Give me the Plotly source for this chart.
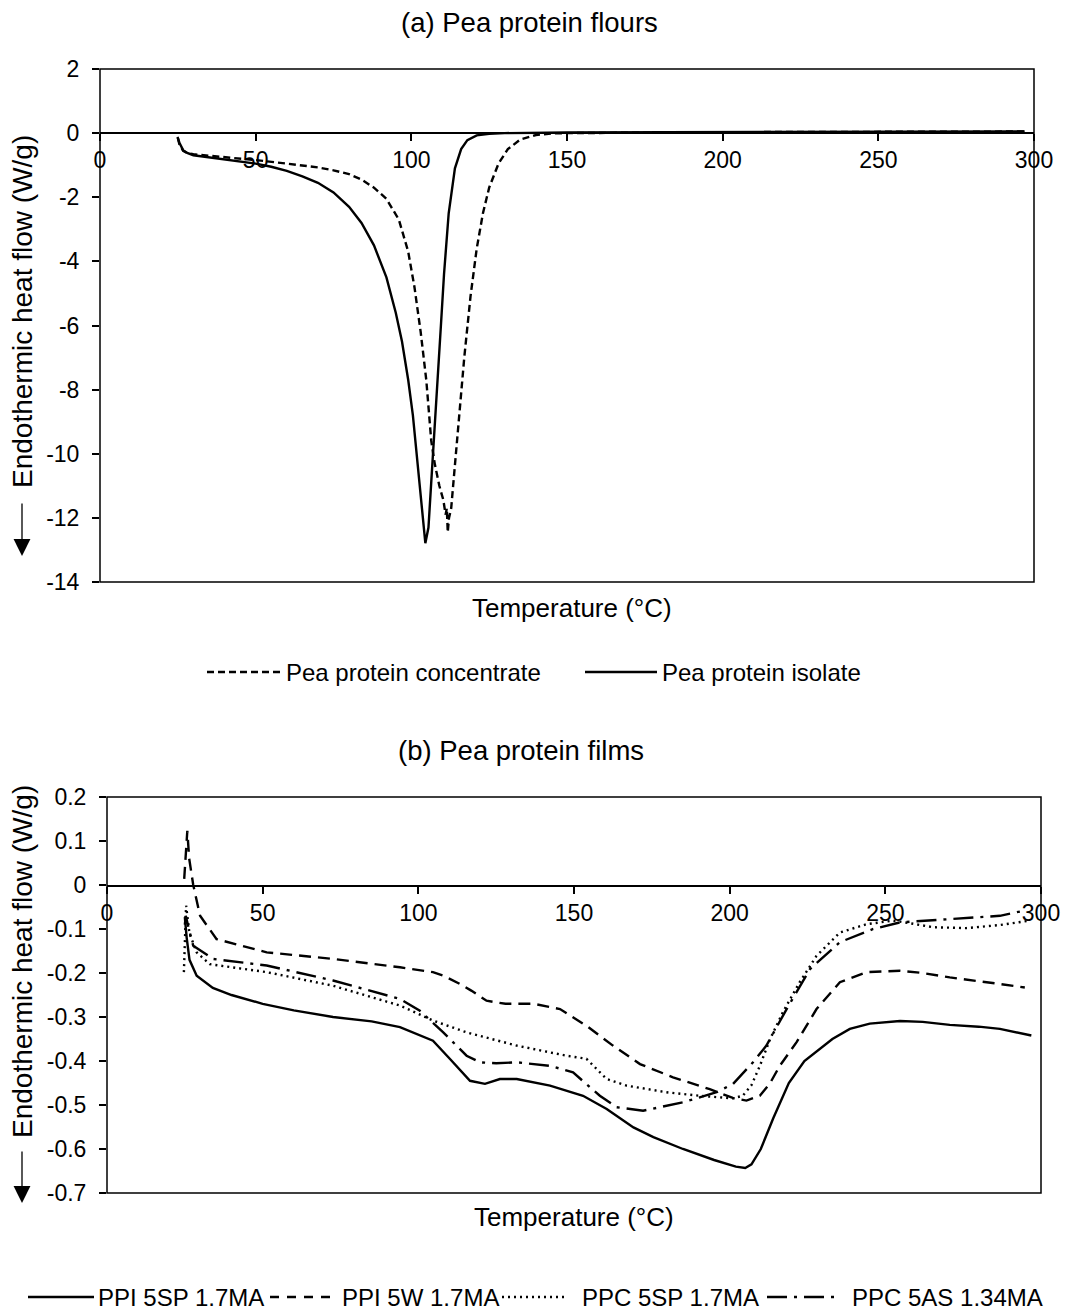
import plotly.graph_objects as go

# ---------------- data: (a) Pea protein flours ----------------
ppc_x = [25, 25.5, 26.7, 28, 30, 35, 40, 50, 60, 70, 75, 80, 84, 88, 92, 96, 99, 101, 103,
         104.8, 106.4, 107.5, 109, 110.3, 111, 111.4, 111.7, 112.1, 112.8, 114, 115.5, 117,
         119, 121, 123, 125, 128, 131, 135, 140, 145, 150, 200, 250, 297]
ppc_y = [-0.15, -0.35, -0.55, -0.62, -0.66, -0.7, -0.74, -0.84, -0.95, -1.07, -1.16, -1.28,
         -1.45, -1.7, -2.05, -2.7, -3.7, -4.8, -6.2, -7.7, -9.6, -10.3, -11.0, -11.45, -11.9,
         -11.7, -12.45, -12.0, -11.7, -10.4, -8.7, -7.0, -5.1, -3.6, -2.5, -1.7, -0.95, -0.5,
         -0.2, -0.06, -0.01, 0.0, 0.03, 0.04, 0.05]

ppi_x = [24.9, 25.5, 26.7, 28, 30, 35, 40, 45, 50, 55, 60, 65, 70, 75, 80, 84, 88, 92, 95, 97,
         99, 100.5, 102, 103.5, 104.5, 105.5, 106.5, 107.5, 108.5, 109.5, 110.5, 112, 114, 116,
         118, 121, 125, 130, 150, 200, 250, 297]
ppi_y = [-0.12, -0.3, -0.53, -0.62, -0.69, -0.76, -0.82, -0.88, -0.95, -1.05, -1.18, -1.35,
         -1.55, -1.85, -2.3, -2.8, -3.5, -4.5, -5.6, -6.5, -7.7, -8.8, -10.3, -11.9, -12.79,
         -12.3, -10.8, -9.2, -7.7, -6.0, -4.4, -2.5, -1.1, -0.5, -0.22, -0.07, -0.02, 0.0,
         0.02, 0.03, 0.04, 0.05]

# ---------------- data: (b) Pea protein films ----------------
f1_x = [25, 25.6, 26.5, 28.8, 34, 40, 50, 60, 72.6, 85, 94.1, 100, 104.7, 110.1, 116.6, 121.4,
        126.2, 131.6, 142.3, 152.9, 160.5, 169.1, 175.5, 185, 195, 202, 205, 207, 210, 214,
        219, 224, 229, 233, 238.6, 245, 254.7, 262, 270.7, 280, 286.8, 296.9]
f1_y = [-0.073, -0.12, -0.17, -0.206, -0.234, -0.25, -0.27, -0.285, -0.3, -0.31, -0.323,
        -0.34, -0.354, -0.395, -0.445, -0.452, -0.441, -0.441, -0.456, -0.479, -0.509, -0.551,
        -0.573, -0.6, -0.625, -0.64, -0.643, -0.635, -0.6, -0.53, -0.45, -0.4, -0.373, -0.35,
        -0.327, -0.315, -0.309, -0.311, -0.318, -0.322, -0.327, -0.342]

f2_x = [24.8, 25.4, 25.8, 26.4, 27.7, 29.9, 35.2, 51.3, 72.6, 94.1, 104.7, 108, 113.4, 117,
        121.9, 128, 137, 145.5, 154, 162.5, 171.2, 181.8, 193.6, 201, 205.4, 209.7, 213,
        216.1, 221.5, 227.9, 235.4, 244, 254.7, 262, 270.7, 286.8, 294.8]
f2_y = [0.014, 0.09, 0.123, 0.06, 0.0, -0.07, -0.123, -0.153, -0.168, -0.187, -0.198, -0.206,
        -0.225, -0.24, -0.263, -0.27, -0.27, -0.282, -0.32, -0.365, -0.407, -0.437, -0.464,
        -0.484, -0.49, -0.479, -0.45, -0.411, -0.357, -0.282, -0.221, -0.198, -0.195, -0.2,
        -0.21, -0.225, -0.233]

f3_x = [24.7, 25.2, 25.4, 26.5, 28.8, 33, 51.3, 72.6, 94.1, 104.7, 115.5, 131.6, 147.6, 154,
        160.5, 166.9, 179.7, 190.4, 201, 204.2, 207, 209.7, 213, 217.1, 222.5, 227.9, 235.4,
        244, 252.5, 258, 265.4, 276, 286.8, 296.4]
f3_y = [-0.198, -0.1, -0.047, -0.11, -0.153, -0.18, -0.198, -0.229, -0.274, -0.308, -0.335,
        -0.365, -0.388, -0.395, -0.441, -0.456, -0.471, -0.479, -0.485, -0.479, -0.455,
        -0.411, -0.35, -0.289, -0.221, -0.161, -0.108, -0.089, -0.081, -0.087, -0.096,
        -0.098, -0.091, -0.081]

f4_x = [25, 25.3, 26.3, 27.7, 34.1, 51.3, 72.6, 94.1, 100.5, 108, 115.5, 119.8, 125, 131.6,
        142.3, 149.7, 158.3, 163.7, 172.2, 185, 195.8, 201.1, 207.5, 211.8, 218.3, 225.8,
        235.4, 246.1, 254.7, 270.7, 286.8, 294.8]
f4_y = [-0.09, -0.07, -0.1, -0.138, -0.168, -0.183, -0.217, -0.259, -0.286, -0.335, -0.388,
        -0.403, -0.405, -0.403, -0.411, -0.426, -0.479, -0.505, -0.513, -0.494, -0.471,
        -0.452, -0.403, -0.365, -0.282, -0.191, -0.13, -0.1, -0.085, -0.077, -0.07, -0.058]

# ---------------- tick labels ----------------
x_ticks = [0, 50, 100, 150, 200, 250, 300]
x_ticktext = ["0", "50", "100", "150", "200", "250", "300"]
ya_ticks = [2, 0, -2, -4, -6, -8, -10, -12, -14]
ya_ticktext = ["2", "0", "-2", "-4", "-6", "-8", "-10", "-12", "-14"]
yb_ticks = [0.2, 0.1, 0, -0.1, -0.2, -0.3, -0.4, -0.5, -0.6, -0.7]
yb_ticktext = ["0.2", "0.1", "0", "-0.1", "-0.2", "-0.3", "-0.4", "-0.5", "-0.6", "-0.7"]

legend_a = ["Pea protein concentrate", "Pea protein isolate"]
legend_b = ["PPI 5SP 1.7MA", "PPI 5W 1.7MA", "PPC 5SP 1.7MA", "PPC 5AS 1.34MA"]
titles = ["(a) Pea protein flours", "(b) Pea protein films"]
x_title = "Temperature (°C)"
y_title = "Endothermic heat flow (W/g)"

# ---------------- layout helpers ----------------
W, H = 1065, 1315
FONT = "Liberation Sans, Arial, sans-serif"
def px(x):
    return x / W
def py(y):
    return 1 - y / H

LW = 2.4
dash_a = "7px,4px"
dash_b = "12px,7px"
dot_b = "2px,4px"
dashdot_b = "20px,7px,3px,7px"

fig = go.Figure()
fig.add_trace(go.Scatter(x=ppc_x, y=ppc_y, mode="lines", xaxis="x", yaxis="y",
                         line=dict(color="black", width=LW, dash=dash_a), showlegend=False))
fig.add_trace(go.Scatter(x=ppi_x, y=ppi_y, mode="lines", xaxis="x", yaxis="y",
                         line=dict(color="black", width=LW), showlegend=False))
fig.add_trace(go.Scatter(x=f1_x, y=f1_y, mode="lines", xaxis="x2", yaxis="y2",
                         line=dict(color="black", width=LW), showlegend=False))
fig.add_trace(go.Scatter(x=f2_x, y=f2_y, mode="lines", xaxis="x2", yaxis="y2",
                         line=dict(color="black", width=LW, dash=dash_b), showlegend=False))
fig.add_trace(go.Scatter(x=f3_x, y=f3_y, mode="lines", xaxis="x2", yaxis="y2",
                         line=dict(color="black", width=LW, dash=dot_b), showlegend=False))
fig.add_trace(go.Scatter(x=f4_x, y=f4_y, mode="lines", xaxis="x2", yaxis="y2",
                         line=dict(color="black", width=LW, dash=dashdot_b), showlegend=False))

tickfont = dict(family=FONT, size=23, color="black")
common_x = dict(range=[0, 300], tickvals=x_ticks, ticktext=x_ticktext, showgrid=False,
                zeroline=False, showline=True, linecolor="black", linewidth=1.5,
                ticks="outside", ticklen=7, tickwidth=1.5, tickcolor="black",
                tickfont=tickfont, anchor="free", automargin=False)
common_y = dict(showgrid=False, zeroline=False, showline=False,
                ticks="outside", ticklen=7, tickwidth=1.5, tickcolor="black",
                tickfont=tickfont, automargin=False, ticklabelstandoff=8)

# top plot area: x 100..1034, y 69..582 ; zero at y=133
# bottom plot area: x 107..1041, y 797..1193 ; zero at y=886
fig.update_layout(
    width=W, height=H, margin=dict(l=0, r=0, t=0, b=0, pad=0, autoexpand=False),
    autosize=False,
    paper_bgcolor="white", plot_bgcolor="white", showlegend=False,
    font=dict(family=FONT, color="black"),
    xaxis=dict(common_x, domain=[px(100), px(1034)], position=py(133)),
    yaxis=dict(common_y, domain=[py(582), py(69)], range=[-14, 2], tickvals=ya_ticks,
               ticktext=ya_ticktext, anchor="x"),
    xaxis2=dict(common_x, domain=[px(107), px(1041)], position=py(886)),
    yaxis2=dict(common_y, domain=[py(1193), py(797)], range=[-0.7, 0.2], tickvals=yb_ticks,
                ticktext=yb_ticktext, anchor="x2"),
)

shapes = []
# frames
for xr, yr in (("x domain", "y domain"), ("x2 domain", "y2 domain")):
    shapes.append(dict(type="rect", xref=xr, yref=yr, x0=0, x1=1, y0=0, y1=1,
                       line=dict(color="black", width=1.5)))

annots = []
def text(t, x, y, size, xanchor="center", angle=0):
    annots.append(dict(text=t, x=px(x), y=py(y), xref="paper", yref="paper", showarrow=False,
                       xanchor=xanchor, yanchor="middle", textangle=angle,
                       font=dict(family=FONT, size=size, color="black")))

text(titles[0], 529, 22, 27.5)
text(titles[1], 521, 750, 27.5)
text(x_title, 572, 608, 26)
text(x_title, 574, 1217, 26)
text(y_title, 22, 312, 28, angle=-90)
text(y_title, 22, 962, 28, angle=-90)

for tip, tail in ((556, 502), (1203, 1150)):
    annots.append(dict(text="", x=px(22), y=py(tip), xref="paper", yref="paper",
                       showarrow=True, ax=0, ay=-(tip - tail), arrowhead=2, arrowsize=2.6,
                       arrowwidth=1.3, arrowcolor="black"))

# manual legends
def leg_line(x0, x1, y, dash):
    shapes.append(dict(type="line", xref="paper", yref="paper", x0=px(x0), x1=px(x1),
                       y0=py(y), y1=py(y), line=dict(color="black", width=LW, dash=dash)))

LF = 24
leg_line(207, 280, 672, dash_a)
text(legend_a[0], 284, 672, LF, xanchor="left")
leg_line(585, 657, 672, "solid")
text(legend_a[1], 660, 672, LF, xanchor="left")

leg_line(28, 94, 1297, "solid")
text(legend_b[0], 96, 1297, LF, xanchor="left")
leg_line(270, 337, 1297, "9px,8px")
text(legend_b[1], 340, 1297, LF, xanchor="left")
leg_line(502, 566, 1297, dot_b)
text(legend_b[2], 580, 1297, LF, xanchor="left")
leg_line(767, 838, 1297, dashdot_b)
text(legend_b[3], 850, 1297, LF, xanchor="left")

fig.update_layout(shapes=shapes, annotations=annots)
fig.write_html("out.html")
